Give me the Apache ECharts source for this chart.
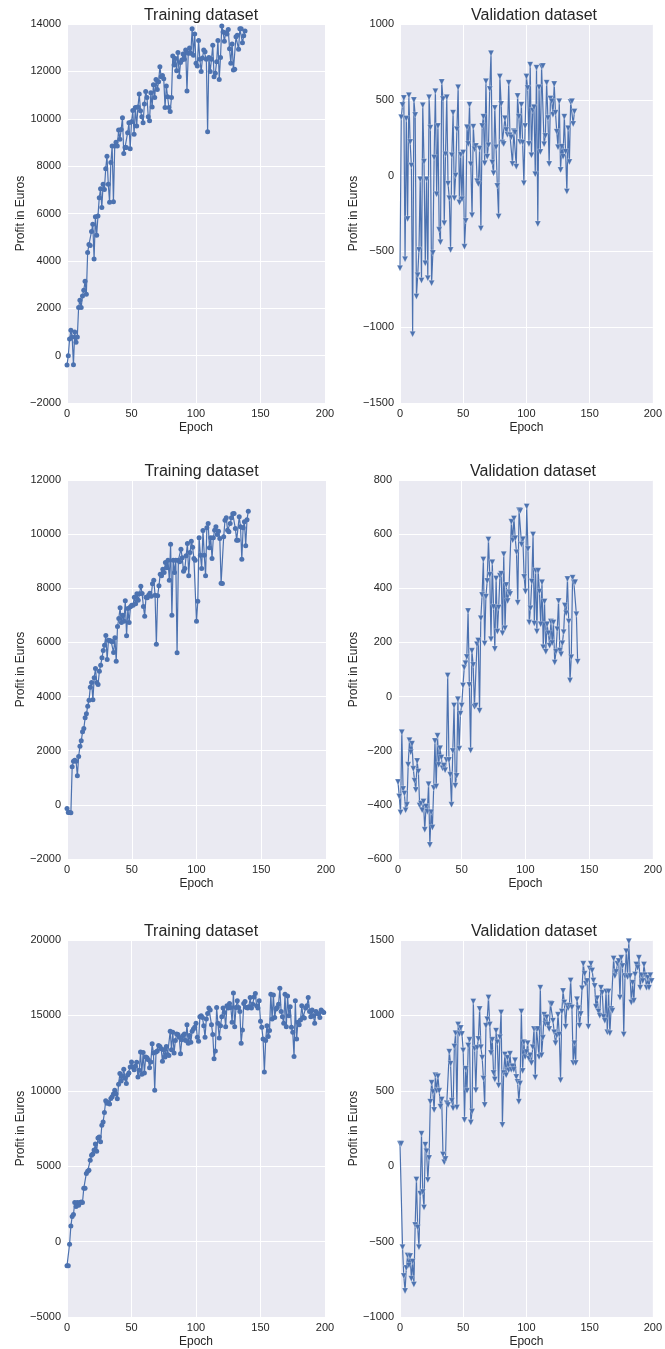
<!DOCTYPE html>
<html>
<head>
<meta charset="utf-8">
<script src="https://cdn.jsdelivr.net/npm/echarts@6/dist/echarts.min.js"></script>
<style>
html,body{margin:0;padding:0;background:#fff;}
#c{width:665px;height:1349px;}
</style>
</head>
<body>
<div id="c"></div>
<script>
// ---- Data (profit in euros per epoch) ----
const train1 = [-400,0,700,1070,790,-380,1000,560,790,2030,2340,2030,2520,2760,3140,2590,4350,4690,4650,5240,5550,4080,5860,5085,5890,6660,7040,6250,7240,7010,7890,8420,7240,6480,8150,8850,6500,8850,9010,8850,9520,9130,9550,10040,8530,8790,8790,9410,9830,8730,9870,10350,9350,10480,9690,10500,11040,10340,10080,9830,10620,11150,10900,10080,9920,11100,10500,11440,10900,11660,11240,11560,12200,11770,11830,11690,10480,11380,10930,10480,10310,10900,12650,12270,12540,12030,12800,11770,12370,12480,12730,12510,12900,11170,12760,12990,12760,13800,12680,13580,12340,12230,13300,12510,11990,12560,12900,12830,12510,9450,12590,11990,12510,13100,11770,11920,12410,13300,11660,12590,13920,13660,13270,13630,13580,13770,12960,12340,13160,12060,12090,13460,13520,12930,13800,13800,13210,13500,13700];
const valid1 = [-611,385,466,512,-552,376,-286,530,222,66,-1046,499,400,-798,-657,-490,-24,-692,464,92,-578,-24,-677,516,316,-710,-510,119,556,-123,327,-358,-440,618,505,-314,141,516,-53,-149,-490,134,415,-149,0,305,582,-178,138,-156,152,-470,-299,319,209,468,75,-262,323,174,196,-37,-55,178,-349,327,389,81,622,125,200,571,807,86,15,446,187,-68,-270,653,473,218,209,378,301,270,613,266,253,77,292,284,59,525,389,222,468,218,-51,327,653,578,209,732,134,429,451,9,712,-319,582,156,719,723,207,262,613,380,77,508,490,402,604,415,290,187,490,37,191,125,389,158,-105,312,90,486,490,341,422];
const train2 = [-135,-283,-283,-296,1404,1613,1650,1613,1071,1786,2167,2364,2697,2820,3214,3362,3645,3867,4347,4520,3879,4692,5037,4520,4446,4938,5160,5431,5702,5899,6256,5369,6084,6071,6047,6022,5628,6170,5308,6589,6884,7278,6736,7007,6786,7537,6244,7254,6736,7315,7377,7377,7672,7426,7795,7562,7795,8079,7808,7327,6970,7672,7648,7746,7820,7709,8165,8300,7746,5936,7721,8091,8522,8460,8707,8584,8953,8756,9039,8300,9630,7007,9039,8584,9039,5616,9039,8978,9446,9125,8633,8731,9199,9655,8460,9322,9741,9520,9100,9039,6786,7525,9864,9224,8731,10135,9224,8460,10234,10394,9495,9864,9100,9864,10148,10271,9988,10111,9840,8190,8177,9901,10517,10603,10148,10086,10394,10603,10751,10763,10209,9778,9778,10640,10271,9076,10234,10455,9569,10529,10849];
const valid2 = [-316,-369,-428,-132,-341,-358,-420,-400,-252,-161,-206,-174,-267,-311,-345,-238,-277,-402,-395,-420,-388,-492,-406,-425,-324,-548,-427,-484,-338,-164,-332,-145,-252,-191,-225,-265,-255,-272,-234,78,-234,-289,-400,-201,-33,-329,-293,-10,-193,-63,-33,41,107,123,146,316,43,-199,169,117,-38,-33,193,207,-52,289,375,506,196,369,427,580,450,212,496,331,176,436,240,329,446,454,234,526,252,412,353,385,379,646,577,658,585,533,347,688,686,562,581,442,388,702,545,274,326,425,599,270,465,240,465,388,267,422,182,351,166,267,234,188,277,198,274,126,166,249,353,170,156,197,238,336,308,434,277,59,145,439,422,422,304,129];
const train3 = [-1600,-1600,-175,1030,1667,1800,2590,2325,2590,2412,2590,2630,2590,3530,3530,4518,4670,4737,5395,5724,5811,6074,6469,5987,6864,6930,6623,7719,7939,8553,9342,9167,9232,9123,9496,9605,9781,10044,9781,9474,10439,11140,10658,10965,11425,10833,10482,11053,11184,11579,11908,11579,11404,11623,11886,10921,11360,12566,11097,12544,11184,12237,12193,12062,11535,11908,13114,12500,10044,12566,12632,13005,12939,12785,11952,12720,12237,12939,12412,12346,13947,12720,13882,12500,13333,13772,13728,13553,12456,13377,13662,13772,13333,14386,13158,13662,13224,13947,14101,14210,14474,13553,13289,14912,14978,14868,14320,13553,14759,15132,15483,15351,14386,13728,12127,12632,15527,14474,13509,14320,14912,15483,15197,14254,15636,15483,15790,15527,14540,16491,14254,15527,15965,15527,15263,13158,14035,15790,15921,15527,15483,15571,16185,15483,15746,16228,16447,15636,15483,15965,14606,14210,13443,11250,13333,14320,13597,13991,16403,14759,16360,14868,15417,15527,15746,16798,15263,14912,14474,16403,14254,16294,14978,15571,14210,13882,12281,15965,13443,14540,14386,14693,15636,14868,14825,15483,15636,16185,15263,14912,15351,14978,14474,15263,15132,15088,14868,15351,15263,15197];
const valid3 = [149,149,-537,-728,-827,-675,-592,-658,-596,-746,-632,-785,-390,-88,-406,-537,-182,215,-171,-274,143,99,-92,55,428,553,493,373,603,500,596,500,395,443,77,26,48,417,406,759,680,434,384,794,882,390,939,877,917,877,768,307,647,500,800,838,289,362,1092,779,504,785,844,1042,789,719,581,406,932,974,1118,939,750,838,618,575,899,822,535,855,1020,274,618,741,603,719,636,746,640,662,640,702,592,559,428,548,1026,632,822,724,757,816,713,735,684,789,910,588,910,910,724,1184,735,851,1004,943,987,939,910,1079,1075,965,888,816,866,1004,873,570,1026,1162,1086,925,1064,1048,1064,1232,1053,684,816,684,1107,1048,932,1009,1180,1342,1276,1210,1228,925,1311,1342,1298,1232,1195,1057,1114,1026,998,1184,1151,991,965,1158,888,1158,882,1042,1031,1377,1261,1289,1342,1360,1118,1382,1327,873,1261,1425,1254,1491,1261,1086,1217,1097,1272,1338,1316,1382,1184,1267,1228,1338,1267,1184,1250,1184,1267,1228];

const titles = ['Training dataset','Validation dataset','Training dataset','Validation dataset','Training dataset','Validation dataset'];
const xTicks = {min:0, max:200, interval:50};
const yRanges = [
  {min:-2000, max:14000, interval:2000},
  {min:-1500, max:1000, interval:500},
  {min:-2000, max:12000, interval:2000},
  {min:-600, max:800, interval:200},
  {min:-5000, max:20000, interval:5000},
  {min:-1000, max:1500, interval:500}
];
const seriesData = [train1, valid1, train2, valid2, train3, valid3];

// ---- Layout ----
const grids = [
  {left:67, top:24, width:258, height:379},
  {left:400, top:24, width:258, height:379},
  {left:67, top:480, width:259, height:379},
  {left:398, top:480, width:260, height:379},
  {left:67, top:940, width:258, height:377},
  {left:400, top:940, width:258, height:377}
];

const FONT = '"Liberation Sans", Arial, sans-serif';
const TXT = '#262626';
const BLUE = '#4C72B0';
const fmt = v => (v < 0 ? '\u2212' + Math.abs(v) : String(v));

const option = {
  animation:false,
  backgroundColor:'#ffffff',
  title: grids.map((g,i)=>({
    text: titles[i],
    left: g.left + g.width/2,
    top: g.top - 21,
    textAlign:'center',
    textStyle:{fontFamily:FONT, fontSize:16, fontWeight:'normal', color:TXT}
  })),
  grid: grids.map(g=>Object.assign({backgroundColor:'#EAEAF2', show:true, borderWidth:0}, g)),
  xAxis: grids.map((g,i)=>({
    type:'value', gridIndex:i, min:xTicks.min, max:xTicks.max, interval:xTicks.interval,
    name:'Epoch', nameLocation:'middle', nameGap:19,
    nameTextStyle:{fontFamily:FONT, fontSize:12, color:TXT},
    axisLine:{show:false}, axisTick:{show:false},
    axisLabel:{fontFamily:FONT, fontSize:11, color:TXT, margin:5, formatter:fmt, showMaxLabel:true, showMinLabel:true},
    splitLine:{show:true, lineStyle:{color:'#ffffff', width:1}}
  })),
  yAxis: grids.map((g,i)=>({
    type:'value', gridIndex:i, min:yRanges[i].min, max:yRanges[i].max, interval:yRanges[i].interval,
    name:'Profit in Euros', nameLocation:'middle', nameGap: (i%2===0 ? 37 : 38), nameRotate:90,
    nameTextStyle:{fontFamily:FONT, fontSize:12, color:TXT},
    axisLine:{show:false}, axisTick:{show:false},
    axisLabel:{fontFamily:FONT, fontSize:11, color:TXT, margin:6, formatter:fmt, showMaxLabel:true, showMinLabel:true},
    splitLine:{show:true, lineStyle:{color:'#ffffff', width:1}}
  })),
  series: seriesData.map((arr,i)=>({
    type:'line', xAxisIndex:i, yAxisIndex:i,
    data: arr.map((v,k)=>[k,v]),
    lineStyle:{color:BLUE, width:1.2},
    itemStyle:{color:BLUE, borderColor: i%2===1 ? 'rgba(255,255,255,0.5)' : BLUE, borderWidth: i%2===1 ? 0.5 : 0},
    symbol: i%2===0 ? 'circle' : 'triangle',
    symbolRotate: i%2===0 ? 0 : 180,
    symbolSize: i%2===0 ? 5 : 6,
    showSymbol:true, showAllSymbol:true,
    emphasis:{disabled:true},
    silent:true
  }))
};

const chart = echarts.init(document.getElementById('c'), null, {renderer:'canvas'});
chart.setOption(option);
</script>
</body>
</html>
